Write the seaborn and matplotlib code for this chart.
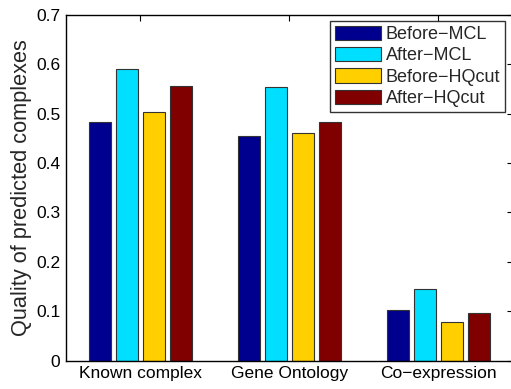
import numpy as np
import pandas as pd
import matplotlib
matplotlib.use("Agg")
import matplotlib.pyplot as plt
import seaborn as sns

categories = ["Known complex", "Gene Ontology", "Co\u2212expression"]
methods = ["Before\u2212MCL", "After\u2212MCL", "Before\u2212HQcut", "After\u2212HQcut"]
before_mcl = [0.483, 0.454, 0.102]
after_mcl = [0.590, 0.553, 0.145]
before_hqcut = [0.503, 0.461, 0.078]
after_hqcut = [0.555, 0.483, 0.097]
colors = ["#00008F", "#00DFFF", "#FFCF00", "#800000"]

rows = []
for m, vals in zip(methods, [before_mcl, after_mcl, before_hqcut, after_hqcut]):
    for c, v in zip(categories, vals):
        rows.append({"category": c, "method": m, "value": v})
df = pd.DataFrame(rows)

sns.set_style("white")
plt.rcParams["font.family"] = ["Liberation Sans", "DejaVu Sans"]

fs_tick = 12.5
fs_label = 15.7
fs_leg = 13

fig = plt.figure(figsize=(5.11, 3.89), dpi=100)
ax = fig.add_axes([66 / 511, (389 - 360.7) / 389, (512.8 - 66) / 511, (360.7 - 14.7) / 389])

sns.barplot(data=df, x="category", y="value", hue="method", order=categories,
            hue_order=methods, palette=colors, width=0.727, gap=0.2,
            edgecolor="#333333", linewidth=0.8, saturation=1, ax=ax)

ax.set_xlim(-0.5, 2.5)
ax.set_ylim(0, 0.7)
ax.set_yticks(np.arange(0, 0.71, 0.1))
ax.set_yticklabels(["0"] + [f"{v:.1f}" for v in np.arange(0.1, 0.71, 0.1)])
ax.set_xlabel("")
ax.set_ylabel("Quality of predicted complexes", fontsize=fs_label, labelpad=3)
ax.tick_params(direction="in", length=4, width=0.8, top=True, right=True,
               labelsize=fs_tick, colors="black", pad=4)
for s in ax.spines.values():
    s.set_visible(True)
    s.set_color("black")
    s.set_linewidth(1.0)

leg = ax.legend(loc="upper right", bbox_to_anchor=((505 - 66) / 446.8, (360.7 - 21) / 346),
                borderaxespad=0, frameon=True, fancybox=False, edgecolor="black",
                fontsize=fs_leg, handlelength=2.55, handleheight=0.85, labelspacing=0.22,
                handletextpad=0.3, borderpad=0.25, title=None)
leg.get_frame().set_linewidth(1.0)

fig.savefig("out.png", dpi=100)
